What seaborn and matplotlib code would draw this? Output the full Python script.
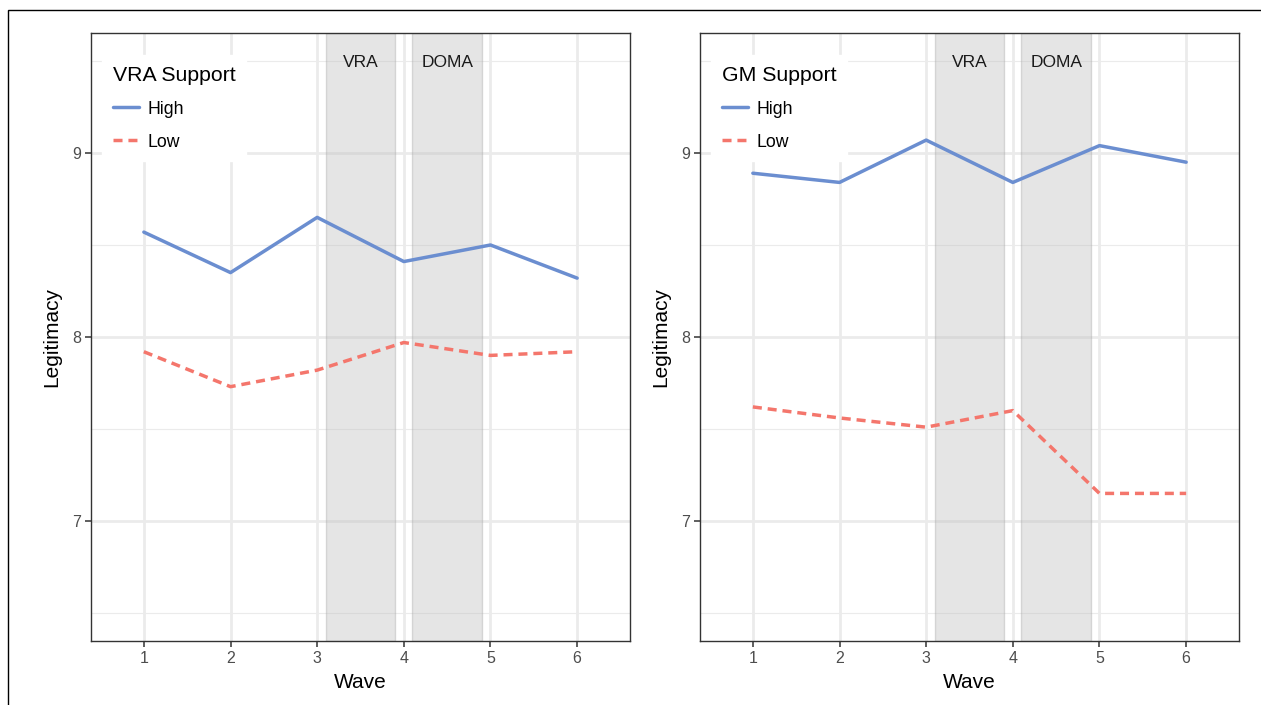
import matplotlib
matplotlib.use("Agg")
import matplotlib.pyplot as plt
import matplotlib.patches as mpatches
import numpy as np
import pandas as pd
import seaborn as sns

# %%
waves = [1, 2, 3, 4, 5, 6]
vra_high = [8.57, 8.35, 8.65, 8.41, 8.50, 8.32]
vra_low = [7.92, 7.73, 7.82, 7.97, 7.90, 7.92]
gm_high = [8.89, 8.84, 9.07, 8.84, 9.04, 8.95]
gm_low = [7.62, 7.56, 7.51, 7.60, 7.15, 7.15]
events = ["VRA", "DOMA"]
event_spans = [(3.1, 3.9), (4.1, 4.9)]
panel_titles = ["VRA Support", "GM Support"]

def long_df(high, low):
    return pd.DataFrame({
        "Wave": waves * 2,
        "Legitimacy": high + low,
        "Support": ["High"] * len(waves) + ["Low"] * len(waves),
    })

panels = [long_df(vra_high, vra_low), long_df(gm_high, gm_low)]

# %%
sns.set_theme(style="white")
plt.rcParams["font.family"] = ["Liberation Sans", "DejaVu Sans"]
plt.rcParams["text.color"] = "black"

fig = plt.figure(figsize=(12.61, 7.05), dpi=100)
W, H = 1261, 705
lefts = [91, 700]
colors = {"High": "#6B8ED0", "Low": "#F4766C"}

# outer frame (clipped at right/bottom like the source)
fig.patches.append(mpatches.Rectangle((8 / W, -0.2), 2, 1.2 - 10 / H,
                                      transform=fig.transFigure, fill=False,
                                      edgecolor="black", lw=1.0))

for left, df, title in zip(lefts, panels, panel_titles):
    ax = fig.add_axes([left / W, 1 - 641 / H, 539 / W, 608 / H])
    ax.set_xlim(0.39, 6.61)
    ax.set_ylim(6.348, 9.652)
    ax.set_xticks(waves)
    ax.set_yticks([7, 8, 9])
    ax.set_yticks([6.5, 7.5, 8.5, 9.5], minor=True)
    ax.grid(True, which="major", color="#EBEBEB", lw=2.0, zorder=0)
    ax.grid(True, which="minor", axis="y", color="#EBEBEB", lw=0.8, zorder=0)
    ax.set_axisbelow(True)

    for name, (x0, x1) in zip(events, event_spans):
        ax.axvspan(x0, x1, facecolor="#BFBFBF", alpha=0.4,
                   edgecolor="#A8A8A8", lw=1.0, zorder=1)
        ax.text((x0 + x1) / 2, 9.49, name, ha="center", va="center",
                fontsize=12.5, color="#1A1A1A", zorder=3)

    sns.lineplot(data=df, x="Wave", y="Legitimacy", hue="Support",
                 style="Support", palette=colors,
                 dashes={"High": "", "Low": (2.6, 1.7)},
                 lw=2.5, ax=ax, zorder=4)

    for s in ax.spines.values():
        s.set_color("#333333")
        s.set_linewidth(1.0)
    ax.tick_params(axis="both", which="major", length=4, width=1.1,
                   color="#333333", labelcolor="#4D4D4D", labelsize=11.5,
                   bottom=True, left=True, pad=3)
    ax.tick_params(axis="y", which="minor", length=0)
    ax.set_xlabel("Wave", fontsize=15, color="black", labelpad=5)
    ax.set_ylabel("Legitimacy", fontsize=15, color="black", labelpad=8)

    leg = ax.legend(title=title, loc="upper left",
                    bbox_to_anchor=(0.004, 0.978), frameon=True,
                    facecolor="white", edgecolor="white", framealpha=1,
                    fontsize=12.7, title_fontsize=15.3, alignment="left",
                    handlelength=1.5, handletextpad=0.5, labelspacing=0.9,
                    borderpad=0.6, fancybox=False)
    leg.set_zorder(5)

fig.savefig("out.png", dpi=100)
